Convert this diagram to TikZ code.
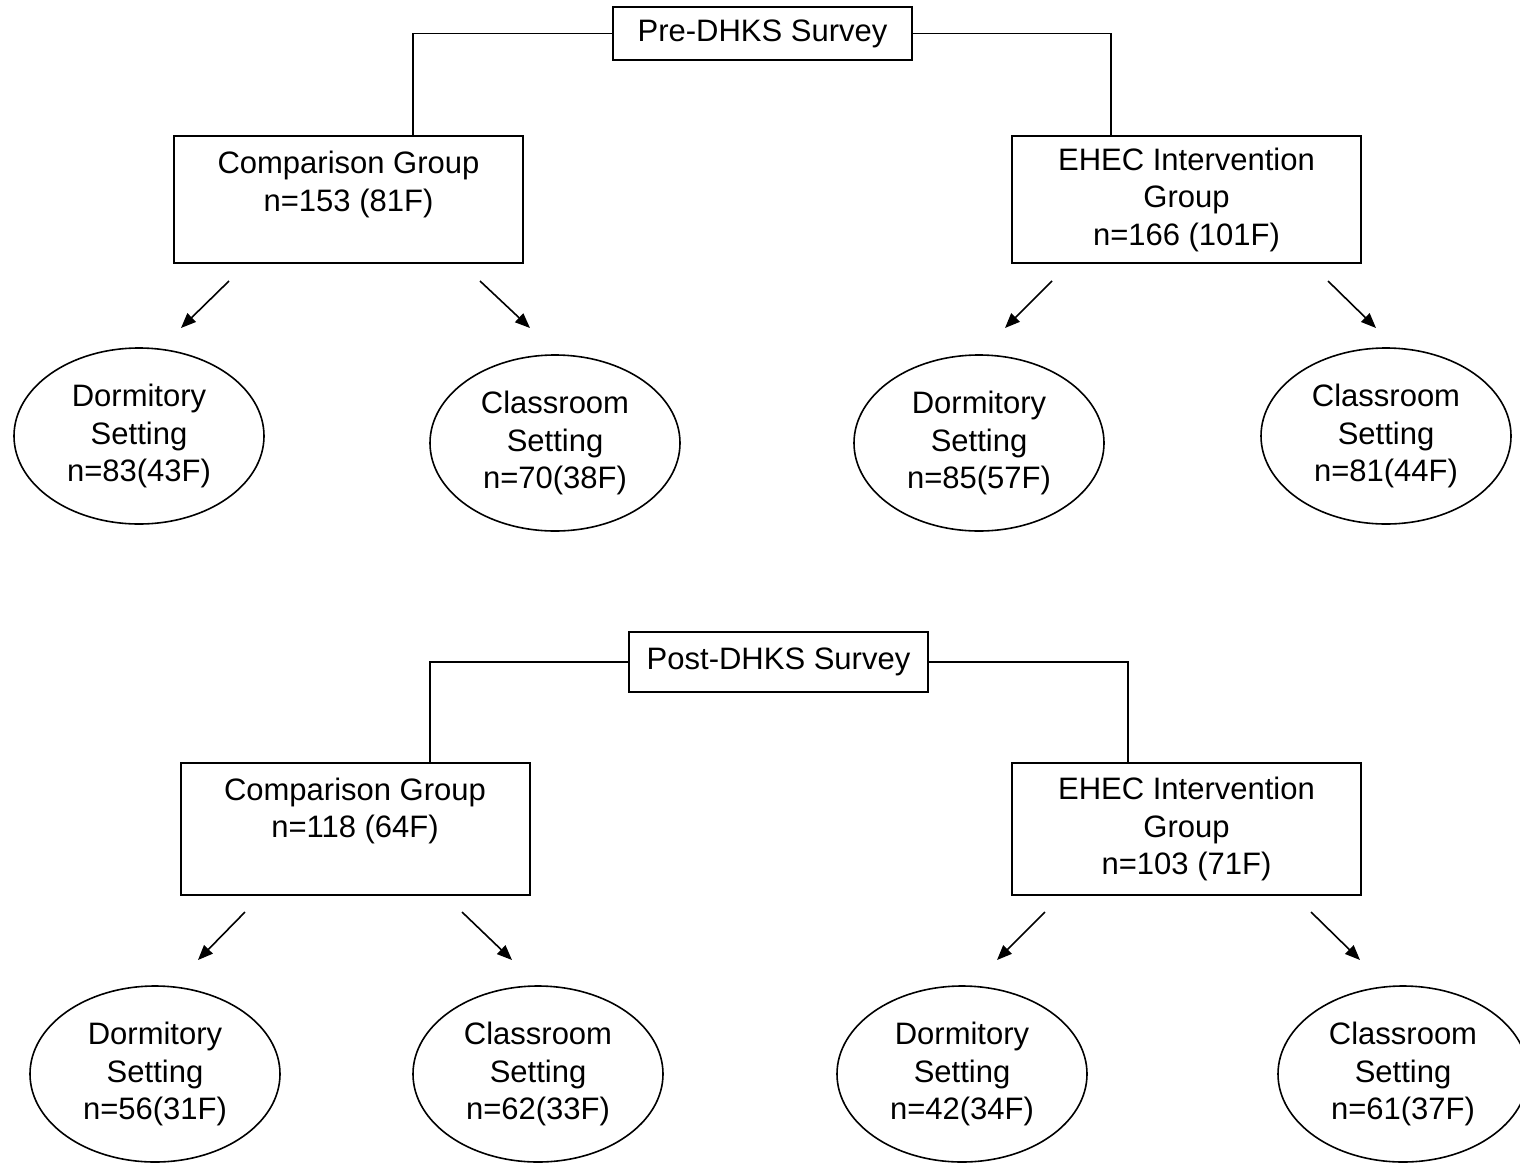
\documentclass[tikz,border=0pt]{standalone}
\usepackage{fontspec}
\setmainfont{Liberation Sans}
\usetikzlibrary{shapes.geometric,arrows.meta}

\tikzset{
  survey/.style={rectangle,draw,line width=1pt,minimum width=149.5pt,inner sep=0pt},
  groupbox/.style={rectangle,draw,line width=1pt,minimum width=174.5pt,align=center,inner sep=0pt},
  setting/.style={ellipse,draw,line width=0.8pt,minimum width=125pt,minimum height=88pt,align=center,inner sep=0pt},
  split/.style={-{Triangle[length=7.5pt,width=6pt]},line width=0.8pt}
}

\begin{document}
\begin{tikzpicture}[x=0.5pt,y=-0.5pt,font=\fontsize{15.5}{18.75}\selectfont]
    \useasboundingbox (0,0) rectangle (1520,1162);

    % pre survey
    \node at (762.5,33.5) [survey,minimum height=26.5pt] (pre) {Pre-DHKS Survey};
    \node at (348.5,199.5) [groupbox,minimum height=63.5pt] (cmp1) {Comparison Group\\n=153 (81F)\\[-6pt]\strut};
    \node at (1186.5,199.5) [groupbox,minimum height=63.5pt] (int1) {EHEC Intervention\\Group\\n=166 (101F)};
    \coordinate (preL) at (413,0);
    \coordinate (preR) at (1111,0);
    \draw[line width=0.8pt] (pre.west) -| (preL |- cmp1.north) (pre.east) -| (preR |- int1.north);

    \coordinate (s1) at (229,281); \coordinate (e1) at (181,328);
    \coordinate (s2) at (480,281); \coordinate (e2) at (530,328);
    \coordinate (s3) at (1052,281); \coordinate (e3) at (1005,328);
    \coordinate (s4) at (1328,281); \coordinate (e4) at (1376,328);
    \draw[split] (s1) -- (e1);
    \draw[split] (s2) -- (e2);
    \draw[split] (s3) -- (e3);
    \draw[split] (s4) -- (e4);

    \node at (139,436) [setting] (d1) {Dormitory\\Setting\\n=83(43F)};
    \node at (555,443) [setting] (c1) {Classroom\\Setting\\n=70(38F)};
    \node at (979,443) [setting] (d2) {Dormitory\\Setting\\n=85(57F)};
    \node at (1386,436) [setting] (c2) {Classroom\\Setting\\n=81(44F)};

    % post survey
    \node at (778.5,662) [survey,minimum height=30pt] (post) {Post-DHKS Survey};
    \node at (355,829) [groupbox,minimum height=66pt] (cmp2) {Comparison Group\\n=118 (64F)\\[-3pt]\strut};
    \node at (1186.5,829) [groupbox,minimum height=66pt] (int2) {EHEC Intervention\\Group\\n=103 (71F)};
    \coordinate (postL) at (430,0);
    \coordinate (postR) at (1128,0);
    \draw[line width=0.8pt] (post.west) -| (postL |- cmp2.north) (post.east) -| (postR |- int2.north);

    \coordinate (s5) at (245,912); \coordinate (e5) at (198,960);
    \coordinate (s6) at (462,912); \coordinate (e6) at (512,960);
    \coordinate (s7) at (1045,912); \coordinate (e7) at (997,960);
    \coordinate (s8) at (1311,912); \coordinate (e8) at (1360,960);
    \draw[split] (s5) -- (e5);
    \draw[split] (s6) -- (e6);
    \draw[split] (s7) -- (e7);
    \draw[split] (s8) -- (e8);

    \node at (155,1074) [setting] (d3) {Dormitory\\Setting\\n=56(31F)};
    \node at (538,1074) [setting] (c3) {Classroom\\Setting\\n=62(33F)};
    \node at (962,1074) [setting] (d4) {Dormitory\\Setting\\n=42(34F)};
    \node at (1403,1074) [setting] (c4) {Classroom\\Setting\\n=61(37F)};
\end{tikzpicture}
\end{document}
